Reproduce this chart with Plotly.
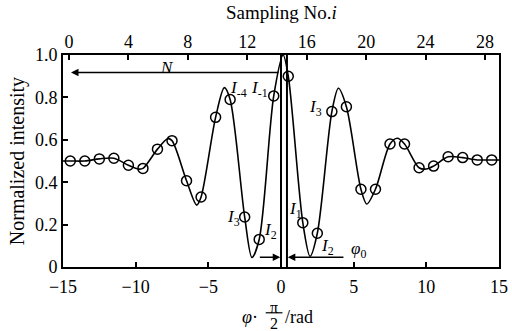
import plotly.graph_objects as go

# sampled points (phase in units of pi/2, normalized intensity)
sample_phi = [-14.5, -13.5, -12.5, -11.5, -10.5, -9.5, -8.5, -7.5, -6.5, -5.5,
              -4.5, -3.5, -2.5, -1.5, -0.5, 0.5, 1.5, 2.5, 3.5, 4.5,
              5.5, 6.5, 7.5, 8.5, 9.5, 10.5, 11.5, 12.5, 13.5, 14.5]
sample_val = [0.50, 0.50, 0.51, 0.513, 0.48, 0.465, 0.556, 0.596, 0.407, 0.33,
              0.706, 0.79, 0.236, 0.13, 0.807, 0.90, 0.209, 0.159, 0.733, 0.756,
              0.367, 0.367, 0.58, 0.58, 0.468, 0.476, 0.52, 0.516, 0.505, 0.505]

# continuous curve
curve_phi = [-15, -14.5, -13.5, -12.5, -11.5, -10.5, -9.8, -9.5, -8.5, -7.8, -7.5,
             -6.5, -5.8, -5.5, -4.5, -3.9, -3.5, -2.5, -2.0, -1.5, -0.5, 0.15,
             0.5, 1.5, 2.0, 2.5, 3.5, 3.95, 4.5, 5.5, 5.9, 6.5, 7.5, 8.0, 8.5,
             9.5, 10.0, 10.5, 11.5, 12.5, 13.5, 14.5, 15]
curve_val = [0.50, 0.50, 0.50, 0.51, 0.513, 0.48, 0.462, 0.465, 0.556, 0.605, 0.596,
             0.407, 0.292, 0.33, 0.706, 0.846, 0.79, 0.236, 0.045, 0.13, 0.807, 1.0,
             0.90, 0.209, 0.05, 0.159, 0.733, 0.843, 0.756, 0.367, 0.297, 0.367, 0.58, 0.607, 0.58,
             0.468, 0.462, 0.476, 0.52, 0.516, 0.505, 0.505, 0.505]

x_ticks = [-15, -10, -5, 0, 5, 10, 15]
y_ticks = [0, 0.2, 0.4, 0.6, 0.8, 1.0]
y_ticklabels = ["0", "0.2", "0.4", "0.6", "0.8", "1.0"]
top_ticks = [0, 4, 8, 12, 16, 20, 24, 28]
top_range = [-0.40, 28.94]

vlines_phi = [0.0, 0.41]

# labels: (text, phi, value)
labels = [
    ("<i>I</i><sub>-4</sub>", -2.95, 0.84),
    ("<i>I</i><sub>-1</sub>", -1.45, 0.84),
    ("<i>I</i><sub>3</sub>", 2.4, 0.748),
    ("<i>I</i><sub>3</sub>", -3.3, 0.232),
    ("<i>I</i><sub>2</sub>", -0.69, 0.172),
    ("<i>I</i><sub>1</sub>", 1.03, 0.268),
    ("<i>I</i><sub>2</sub>", 3.23, 0.093),
    ("<i>φ</i><sub>0</sub>", 5.3, 0.08),
    ("<i>N</i>", -7.85, 0.943),
]

FONT = "Liberation Serif, Times New Roman, DejaVu Serif, serif"
fs = 18

fig = go.Figure()
fig.add_trace(go.Scatter(x=curve_phi, y=curve_val, mode="lines",
                         line=dict(color="black", width=1.6, shape="spline", smoothing=0.85),
                         hoverinfo="skip", showlegend=False))
fig.add_trace(go.Scatter(x=sample_phi, y=sample_val, mode="markers",
                         marker=dict(symbol="circle-open", size=10, color="black",
                                     line=dict(width=1.5, color="black")),
                         showlegend=False))
# dummy trace for the top axis
fig.add_trace(go.Scatter(x=[top_ticks[0]], y=[None], xaxis="x2", mode="markers",
                         showlegend=False, hoverinfo="skip"))

for v in vlines_phi:
    fig.add_shape(type="line", x0=v, x1=v, y0=0, y1=1.0, xref="x", yref="y",
                  line=dict(color="black", width=2))

# top arrow N
fig.add_annotation(x=-14.45, y=0.917, ax=-0.07, ay=0.917, xref="x", yref="y",
                   axref="x", ayref="y", showarrow=True, arrowhead=2, arrowsize=1,
                   arrowwidth=1.5, arrowcolor="black", text="")
# bottom arrows
fig.add_annotation(x=-0.05, y=0.046, ax=-1.56, ay=0.046, xref="x", yref="y",
                   axref="x", ayref="y", showarrow=True, arrowhead=2, arrowsize=1,
                   arrowwidth=1.5, arrowcolor="black", text="")
fig.add_annotation(x=0.47, y=0.046, ax=4.4, ay=0.046, xref="x", yref="y",
                   axref="x", ayref="y", showarrow=True, arrowhead=2, arrowsize=1,
                   arrowwidth=1.5, arrowcolor="black", text="")

for t, x, y in labels:
    fig.add_annotation(x=x, y=y, xref="x", yref="y", text=t, showarrow=False,
                       font=dict(family=FONT, size=17, color="black"))

# axis titles
fig.add_annotation(x=0.5, y=1.2, xref="paper", yref="paper", text="Sampling No.<i>i</i>",
                   showarrow=False, font=dict(family=FONT, size=fs + 1, color="black"),
                   xanchor="center", yanchor="middle")
fig.add_annotation(x=-0.105, y=0.5, xref="paper", yref="paper", text="Normalized intensity",
                   textangle=-90, showarrow=False,
                   font=dict(family=FONT, size=fs + 2, color="black"),
                   xanchor="center", yanchor="middle")
# x title: φ · π/2 /rad
fig.add_annotation(x=-2.13, y=-0.236, xref="x", yref="paper", text="<i>φ</i>·",
                   showarrow=False, font=dict(family=FONT, size=fs, color="black"),
                   xanchor="center", yanchor="middle")
fig.add_annotation(x=-0.48, y=-0.188, xref="x", yref="paper", text="π",
                   showarrow=False, font=dict(family=FONT, size=16, color="black"),
                   xanchor="center", yanchor="middle", height=14, borderpad=0)
fig.add_annotation(x=-0.48, y=-0.262, xref="x", yref="paper", text="2",
                   showarrow=False, font=dict(family=FONT, size=16, color="black"),
                   xanchor="center", yanchor="middle", height=14, borderpad=0)
fig.add_shape(type="line", x0=-1.05, x1=0.1, y0=-0.216, y1=-0.216, xref="x", yref="paper",
              line=dict(color="black", width=1.2))
fig.add_annotation(x=0.15, y=-0.236, xref="x", yref="paper", text="/rad",
                   showarrow=False, font=dict(family=FONT, size=fs, color="black"),
                   xanchor="left", yanchor="middle")

fig.update_layout(
    width=512, height=331,
    margin=dict(l=63, r=13, t=55, b=64),
    paper_bgcolor="white", plot_bgcolor="white",
    font=dict(family=FONT, size=fs, color="black"),
    xaxis=dict(range=[-15, 15], tickvals=x_ticks, ticks="inside", ticklen=5,
               tickwidth=1.5, tickcolor="black", showline=True, linewidth=2,
               linecolor="black", showgrid=False, zeroline=False, mirror=False,
               automargin=False, ticklabelstandoff=2,
               tickfont=dict(family=FONT, size=fs)),
    xaxis2=dict(range=top_range, tickvals=top_ticks, overlaying="x", side="top",
                ticks="inside", ticklen=5, tickwidth=1.5, tickcolor="black",
                showline=True, linewidth=2, linecolor="black", showgrid=False,
                zeroline=False, automargin=False, ticklabelstandoff=-2,
                tickfont=dict(family=FONT, size=fs)),
    yaxis=dict(range=[0, 1.0], tickvals=y_ticks, ticktext=y_ticklabels,
               ticks="inside", ticklen=5, tickwidth=1.5, tickcolor="black",
               showline=True, linewidth=2, linecolor="black", mirror=True,
               showgrid=False, zeroline=False, automargin=False,
               tickfont=dict(family=FONT, size=fs)),
    showlegend=False,
)

fig.write_html("out.html", config={"displayModeBar": False},
               post_script="document.body.style.margin='0';document.body.style.padding='0';")
